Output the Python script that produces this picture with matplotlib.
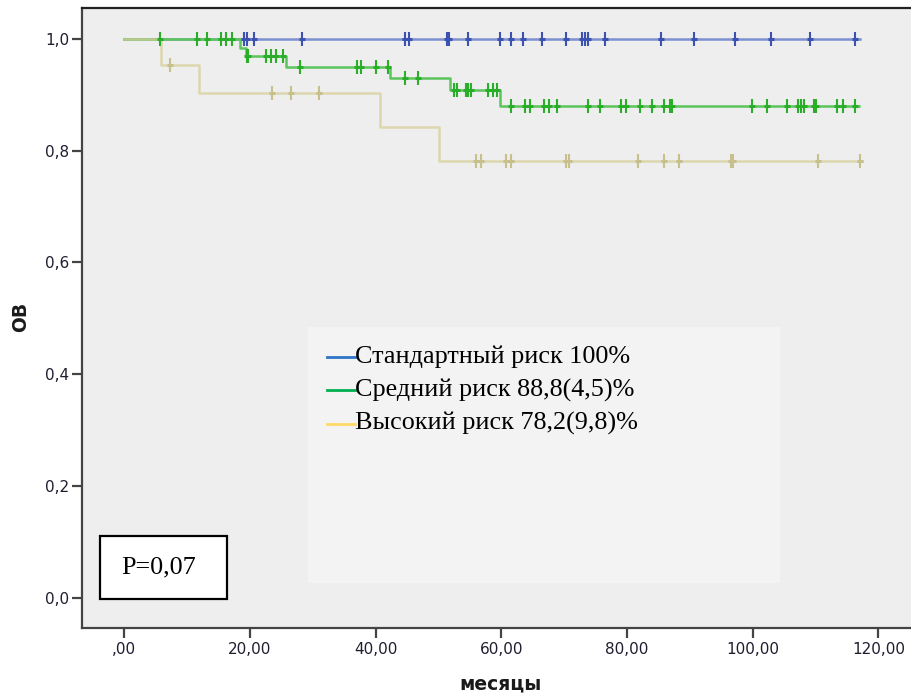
import matplotlib
matplotlib.use("Agg")
import matplotlib.pyplot as plt
from matplotlib.patches import Rectangle
from matplotlib.lines import Line2D
import numpy as np

# Kaplan-Meier data: event times with survival after each event, and censored times
std_events = []
std_surv = []
std_censor = [19.1, 19.5, 20.7, 28.3, 44.7, 45.3, 51.3, 51.7, 54.7, 59.7, 61.5,
              63.4, 66.5, 70.3, 72.9, 73.3, 73.7, 76.5, 85.4, 90.7, 97.2, 102.9,
              109.1, 116.3]
std_end = 117.0

mid_events = [18.4, 19.3, 25.8, 42.2, 51.9, 59.7]
mid_surv = [0.983, 0.970, 0.950, 0.930, 0.909, 0.880]
mid_censor = [5.7, 11.5, 13.1, 15.4, 16.2, 17.1, 19.5, 19.7, 22.6, 23.4, 24.2,
              25.3, 27.9, 37.0, 37.6, 40.0, 41.9, 44.6, 46.8, 52.5, 52.9, 54.4,
              54.7, 55.1, 57.9, 58.6, 59.3, 61.6, 63.8, 64.6, 66.8, 67.5, 68.8,
              73.8, 75.7, 79.0, 79.9, 82.1, 83.9, 85.9, 86.8, 87.1, 99.8, 102.3,
              105.4, 107.2, 107.6, 108.1, 109.8, 110.1, 113.4, 114.4, 116.3]
mid_end = 116.9

high_events = [5.9, 11.9, 40.7, 50.1]
high_surv = [0.953, 0.903, 0.843, 0.782]
high_censor = [7.3, 23.5, 26.5, 30.9, 56.0, 56.7, 60.7, 61.6, 70.3, 70.8, 81.7,
               85.8, 88.3, 96.6, 96.9, 110.4, 117.0]
high_end = 117.3

group_labels = ["Стандартный риск 100%", "Средний риск 88,8(4,5)%",
                "Высокий риск 78,2(9,8)%"]
p_text = "P=0,07"
x_ticks = [0, 20, 40, 60, 80, 100, 120]
x_ticklabels = [",00", "20,00", "40,00", "60,00", "80,00", "100,00", "120,00"]
y_ticks = [0.0, 0.2, 0.4, 0.6, 0.8, 1.0]
y_ticklabels = ["0,0", "0,2", "0,4", "0,6", "0,8", "1,0"]

W, H = 911, 696
fig = plt.figure(figsize=(W / 100, H / 100), dpi=100)
fig.patch.set_facecolor("white")

# axes box in pixels: left 82, right 911, top 8, bottom 628
L, R, T, B = 82, 911, 8, 628
ax = fig.add_axes([L / W, 1 - B / H, (R - L) / W, (B - T) / H])
ax.set_facecolor("#eeeeee")

px_per_month = 6.285
x0_px = 124.3
ax.set_xlim(-(x0_px - L) / px_per_month, (R - x0_px) / px_per_month)
y1_px, y0_px = 39.0, 597.7
ppu = y0_px - y1_px
ax.set_ylim(-(B - y0_px) / ppu, 1 + (y1_px - T) / ppu)


def ax_frac(px, py):
    return (px - L) / (R - L), (B - py) / (B - T)


def km_curve(events, surv, end):
    t = [0.0] + list(events) + [end]
    s = [1.0] + list(surv) + [surv[-1] if surv else 1.0]
    return np.array(t), np.array(s)


def surv_at(events, surv, times):
    out = []
    for tt in times:
        v = 1.0
        for e, s in zip(events, surv):
            if tt >= e:
                v = s
        out.append(v)
    return out


# drawn bottom to top: standard, intermediate, high (semi-transparent on top)
groups = [
    (std_events, std_surv, std_censor, std_end, "#7d90d0", "#3c52b0", 1.0),
    (mid_events, mid_surv, mid_censor, mid_end, "#5cc65c", "#2aae2a", 1.0),
    (high_events, high_surv, high_censor, high_end, "#d6cf98", "#c8c08c", 0.75),
]

for i, (ev, sv, cz, end, lc, mc, alpha) in enumerate(groups):
    t, s = km_curve(ev, sv, end)
    ax.step(t, s, where="post", color=lc, lw=1.8, alpha=alpha, zorder=3 + i)
    ys = surv_at(ev, sv, cz)
    ax.plot(cz, ys, linestyle="none", marker="|", markersize=10,
            markeredgewidth=1.5, color=mc, zorder=6 + i)
    ax.plot(cz, ys, linestyle="none", marker="_", markersize=5,
            markeredgewidth=2.2, color=mc, zorder=6 + i)

# axes styling
ax.spines["right"].set_visible(False)
ax.spines["top"].set_color("#222222")
ax.spines["top"].set_linewidth(1.6)
for side in ["left", "bottom"]:
    ax.spines[side].set_color("#444444")
    ax.spines[side].set_linewidth(1.6)

ax.set_xticks(x_ticks)
ax.set_xticklabels(x_ticklabels)
ax.set_yticks(y_ticks)
ax.set_yticklabels(y_ticklabels)
ax.tick_params(axis="both", direction="out", length=7, width=1.6,
               color="#444444", labelsize=11, labelcolor="#1e1e30")
ax.tick_params(axis="x", pad=3)
ax.tick_params(axis="y", pad=2)

fig.text(21 / W, 1 - 317 / H, "ОВ", rotation=90, ha="center", va="center",
         fontsize=13.5, fontweight="bold", color="#1a1a1a")
fig.text(500 / W, 1 - 684 / H, "месяцы", ha="center", va="center",
         fontsize=13.5, fontweight="bold", color="#1a1a1a")

# legend panel
lx0, ly0 = ax_frac(308, 583)
lx1, ly1 = ax_frac(780, 327)
ax.add_patch(Rectangle((lx0, ly0), lx1 - lx0, ly1 - ly0, transform=ax.transAxes,
                       facecolor="#f3f3f3", edgecolor="none", zorder=1))
legend_colors = ["#2e75c6", "#00b050", "#ffd966"]
baselines = [363.3, 396.7, 430.0]
for lab, col, bl in zip(group_labels, legend_colors, baselines):
    xa, ya = ax_frac(327, bl - 6.5)
    xb, _ = ax_frac(355, bl - 6.5)
    ax.add_line(Line2D([xa, xb], [ya, ya], transform=ax.transAxes, color=col,
                       lw=2.0, zorder=10))
    tx, ty = ax_frac(355, bl)
    ax.text(tx, ty, lab, transform=ax.transAxes, ha="left", va="baseline",
            fontsize=18.8, family="Liberation Serif", color="black", zorder=10)

# p-value box
bx0, by0 = ax_frac(100, 599.3)
bx1, by1 = ax_frac(226.7, 536)
ax.add_patch(Rectangle((bx0, by0), bx1 - bx0, by1 - by0, transform=ax.transAxes,
                       facecolor="white", edgecolor="black", lw=1.6, zorder=10))
px_, py_ = ax_frac(120.7, 573.3)
ax.text(px_, py_, p_text, transform=ax.transAxes, ha="left", va="baseline",
        fontsize=18.8, family="Liberation Serif", color="black", zorder=11)

fig.savefig("out.png", dpi=100)
